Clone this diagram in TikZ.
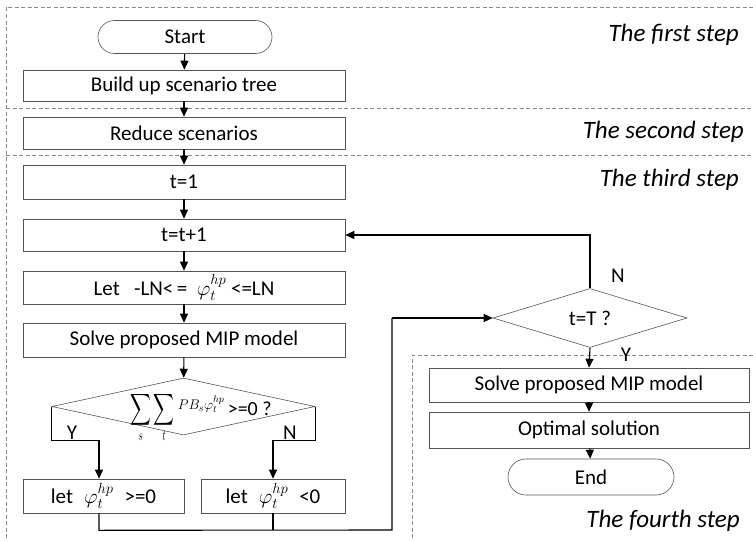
\RequirePackage{fix-cm}
\documentclass[tikz,border=0pt]{standalone}
\usepackage{exscale}
\usepackage{graphicx}
\usepackage{fontspec}
\setmainfont{Carlito}
\usetikzlibrary{arrows.meta,shapes.geometric,shapes.misc}
\definecolor{edge}{HTML}{555555}
\definecolor{dash}{HTML}{8A8A8A}
\tikzset{
  stepbox/.style={draw=edge, line width=0.6pt, fill=white, rectangle, inner sep=0pt,
    minimum width=322pt, font=\fontsize{21}{23}\selectfont},
  termbox/.style={draw=edge, line width=0.6pt, fill=white, rounded rectangle, inner sep=0pt,
    font=\fontsize{21}{23}\selectfont},
  decbox/.style={draw=edge, line width=0.6pt, diamond, inner sep=0pt, aspect=3.3},
  arr/.style={line width=1.1pt, -{Triangle[length=9pt,width=8pt]}},
  plainline/.style={line width=1.1pt},
  sep/.style={draw=dash, line width=0.7pt, dash pattern=on 4pt off 2.5pt},
  steplabel/.style={font=\fontsize{25}{28}\selectfont\itshape, anchor=east, inner sep=0pt},
  yn/.style={font=\fontsize{21}{23}\selectfont, inner sep=0pt}
}
\begin{document}
\begin{tikzpicture}[x=1pt,y=-1pt]
\useasboundingbox (0,0) rectangle (753,541);
% dashed separators
\draw[sep] (753,7) -- (6,7) -- (6,541);
\draw[sep] (6,108) -- (753,108);
\draw[sep] (6,155) -- (753,155);
\draw[sep] (753,355) -- (412,355) -- (412,541);
% step labels
\node[steplabel] (l1) at (739,35) {The first step};
\node[steplabel] (l2) at (744,132) {The second step};
\node[steplabel] (l3) at (739,180) {The third step};
\node[steplabel] (l4) at (740,521) {The fourth step};
% left column
\node[termbox, minimum width=174pt, minimum height=33pt] (start) at (185,37) {Start};
\node[stepbox, minimum height=31pt] (build) at (184,85.5) {Build up scenario tree};
\node[stepbox, minimum height=32pt] (reduce) at (184,133) {Reduce scenarios};
\node[stepbox, minimum height=34pt] (t1) at (184,182) {t=1};
\node[stepbox, minimum height=32pt] (tt1) at (184,235) {t=t+1};
\node[stepbox, minimum height=33pt] (let) at (184,287.5) {Let\ \ \ -LN<\,=\ \ $\varphi_t^{hp}$ <=LN};
\node[stepbox, minimum height=34pt] (solve) at (184,340) {Solve proposed MIP model};
\node[decbox, minimum width=263pt, minimum height=57pt] (d1) at (183.5,406.5) {};
\node[font=\fontsize{20}{22}\selectfont, inner sep=0pt, anchor=base west] (d1t) at (130,415)
  {\scalebox{0.7}[1.06]{$\displaystyle\sum_{s}\sum_{t}$}\,\raisebox{6pt}{\fontsize{14}{14}\selectfont$PB_s\varphi_t^{hp}$}\,>=0 ?};
\node[stepbox, minimum width=161pt, minimum height=34pt] (letA) at (103.5,496) {let\hspace*{11pt}$\varphi_t^{hp}$\hspace*{11pt}>=0};
\node[stepbox, minimum width=144pt, minimum height=34pt] (letB) at (273,496) {let\hspace*{11pt}$\varphi_t^{hp}$\hspace*{11pt}<0};
% right column
\node[decbox, minimum width=194pt, minimum height=59pt, font=\fontsize{21}{23}\selectfont] (d2) at (590,318) {t=T ?};
\node[stepbox, minimum width=320pt, minimum height=34pt] (solve2) at (589,385) {Solve proposed MIP model};
\node[stepbox, minimum width=320pt, minimum height=36pt] (opt) at (589,430) {Optimal solution};
\node[termbox, minimum width=166pt, minimum height=36pt] (end) at (591,477) {End};
% labels Y/N
\node[yn] (y1) at (72,433) {Y};
\node[yn] (n1) at (290,433) {N};
\node[yn] (n2) at (618,276) {N};
\node[yn] (y2) at (626,355) {Y};
% arrows
\draw[arr] (start) -- (build);
\draw[arr] (build) -- (reduce);
\draw[arr] (reduce) -- (t1);
\draw[arr] (t1) -- (tt1);
\draw[arr] (tt1) -- (let);
\draw[arr] (let) -- (solve);
\draw[arr] (solve) -- (d1);
\draw[arr] (d1.west) -- ++(0,34) -| ([xshift=-4.5pt]letA.north);
\draw[arr] (d1.east) -- ++(0,34) -| (letB.north);
\draw[plainline] ([xshift=-4.5pt]letA.south) -- ++(0,17) -- (392,530) -- (392,318);
\draw[plainline] (letB.south) -- ++(0,17);
\draw[arr] (392,318) -- (d2.west);
\draw[arr] (d2.north) |- (tt1.east);
\draw[arr] (d2.south) -- (solve2.north);
\draw[arr] (solve2) -- (opt);
\draw[arr] (opt) -- (end);
\end{tikzpicture}
\end{document}
